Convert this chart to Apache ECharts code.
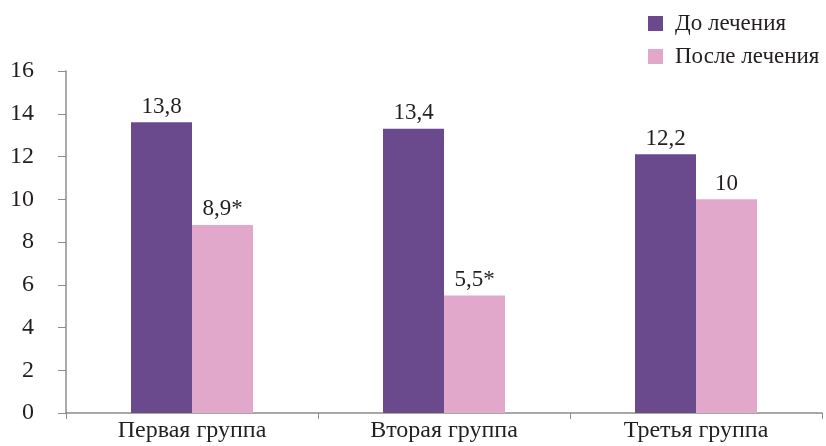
<!DOCTYPE html>
<html>
<head>
<meta charset="utf-8">
<script src="https://cdn.jsdelivr.net/npm/echarts@6/dist/echarts.min.js"></script>
<style>
  html, body { margin: 0; padding: 0; background: #fff; }
  #chart { width: 826px; height: 446px; }
</style>
</head>
<body>
<div id="chart"></div>
<script>
// данные (высоты столбцов, подписи — как на рисунке)
const categories = ['Первая группа', 'Вторая группа', 'Третья группа'];
const beforeVals = [13.6, 13.3, 12.1];
const afterVals = [8.8, 5.5, 10];
const beforeLabels = ['13,8', '13,4', '12,2'];
const afterLabels = ['8,9*', '5,5*', '10'];
const yTicks = [0, 2, 4, 6, 8, 10, 12, 14, 16];

const font = 'Liberation Serif';
const textColor = '#231f20';
const axisColor = '#8c8c8c';

const chart = echarts.init(document.getElementById('chart'));
chart.setOption({
  animation: false,
  textStyle: { fontFamily: font, color: textColor },
  legend: {
    orient: 'vertical',
    left: 648,
    top: 12,
    padding: 0,
    itemWidth: 15,
    itemHeight: 15,
    itemGap: 10,
    icon: 'rect',
    textStyle: { fontFamily: font, fontSize: 23, color: textColor, padding: [0, 0, 0, 7] },
    data: ['До лечения', 'После лечения']
  },
  grid: { left: 66, right: 4, top: 71, bottom: 33, containLabel: false },
  xAxis: {
    type: 'category',
    data: categories,
    axisLine: { lineStyle: { color: axisColor, width: 1.5 } },
    axisTick: { show: true, length: 6, lineStyle: { color: axisColor } },
    axisLabel: { fontFamily: font, fontSize: 24, color: textColor, margin: 6 }
  },
  yAxis: {
    type: 'value',
    min: yTicks[0],
    max: yTicks[yTicks.length - 1],
    interval: 2,
    axisLine: { show: true, lineStyle: { color: axisColor, width: 1.5 } },
    axisTick: { show: true, length: 8, lineStyle: { color: axisColor } },
    splitLine: { show: false },
    axisLabel: { fontFamily: font, fontSize: 24, color: textColor, margin: 32 }
  },
  series: [
    {
      name: 'До лечения',
      type: 'bar',
      data: beforeVals,
      barWidth: 61,
      barGap: '0%',
      itemStyle: { color: '#6a4a8c' },
      label: {
        show: true, position: 'top', distance: 4,
        fontFamily: font, fontSize: 23, color: textColor,
        formatter: p => beforeLabels[p.dataIndex]
      }
    },
    {
      name: 'После лечения',
      type: 'bar',
      data: afterVals,
      barWidth: 61,
      barGap: '0%',
      itemStyle: { color: '#e1a8cb' },
      label: {
        show: true, position: 'top', distance: 4,
        fontFamily: font, fontSize: 23, color: textColor,
        formatter: p => afterLabels[p.dataIndex]
      }
    }
  ]
});
</script>
</body>
</html>
